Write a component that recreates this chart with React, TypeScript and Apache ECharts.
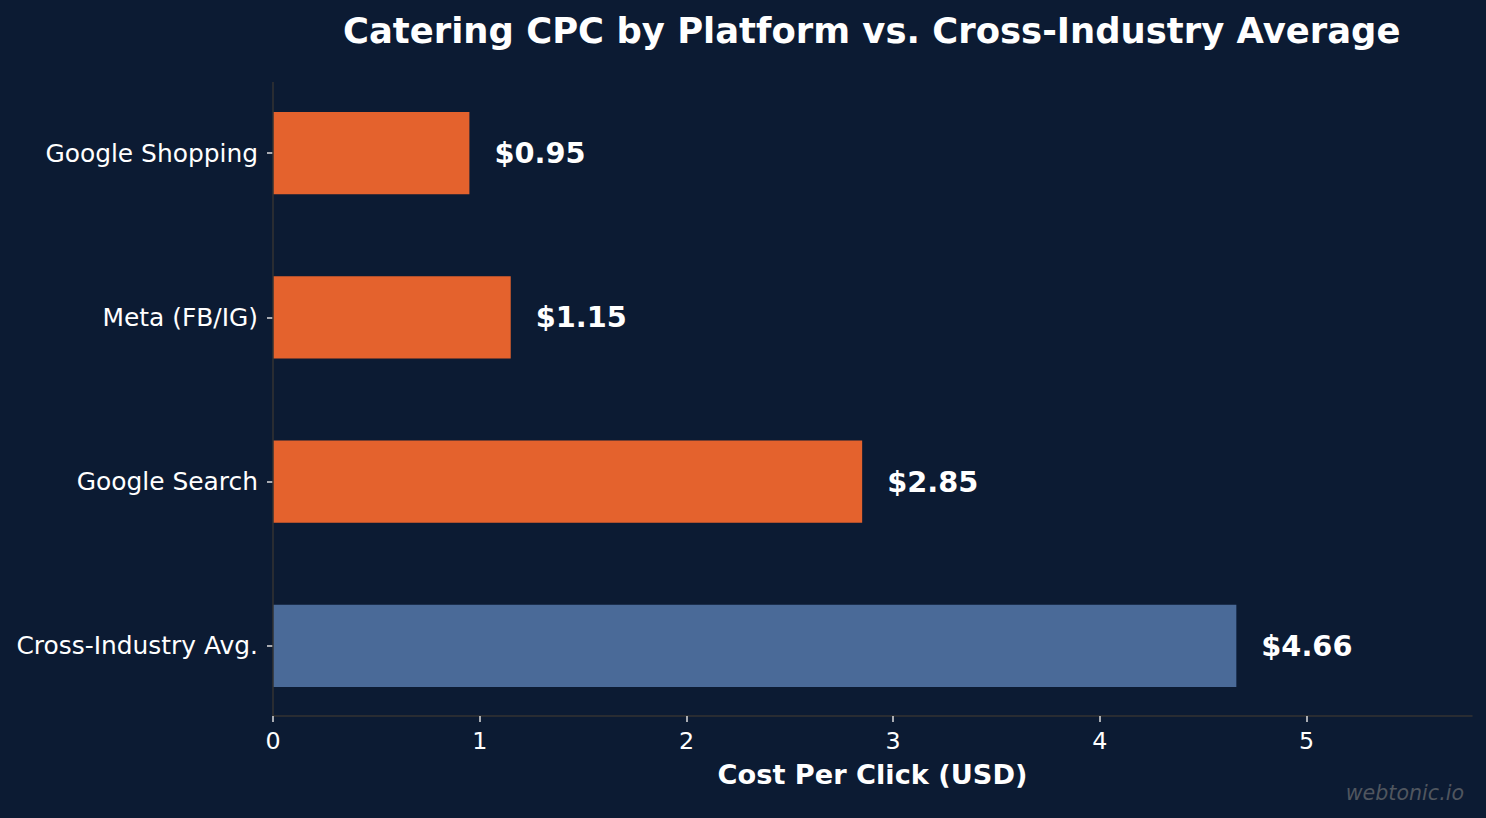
import React, { useEffect, useRef } from "react";
import * as echarts from "echarts";

const categories = ["Google Shopping", "Meta (FB/IG)", "Google Search", "Cross-Industry Avg."];
const cpcValues = [0.95, 1.15, 2.85, 4.66];
const barColors = ["#e4622d", "#e4622d", "#e4622d", "#4a6a98"];
const xTicks = [0, 1, 2, 3, 4, 5];

const FONT = "DejaVu Sans";

export default function App() {
  const ref = useRef<HTMLDivElement>(null);
  useEffect(() => {
    if (!ref.current) return;
    const chart = echarts.init(ref.current, null, { renderer: "svg" });
    const option: any = {
      animation: false,
      backgroundColor: "#0c1b33",
      textStyle: { fontFamily: FONT },
      title: {
        text: "Catering CPC by Platform vs. Cross-Industry Average",
        left: 338,
        top: 8,
        textStyle: { color: "#ffffff", fontSize: 35.4, fontWeight: "bold", fontFamily: FONT },
      },
      grid: { left: 273, right: 14, top: 71, bottom: 90, containLabel: false },
      xAxis: {
        type: "value",
        min: 0,
        max: 5.8,
        interval: 1,
        offset: -12,
        splitLine: { show: false },
        axisLine: { show: true, lineStyle: { color: "#333333", width: 1.5 } },
        axisTick: { show: true, length: 6, lineStyle: { color: "#dddddd", width: 1.5 }, customValues: xTicks },
        axisLabel: { color: "#ffffff", fontSize: 23.8, margin: 13, fontFamily: FONT, customValues: xTicks },
        name: "Cost Per Click (USD)",
        nameLocation: "middle",
        nameGap: 45,
        nameTextStyle: { color: "#ffffff", fontSize: 27.2, fontWeight: "bold", fontFamily: FONT },
      },
      yAxis: {
        type: "category",
        inverse: true,
        data: categories,
        axisLine: { show: false },
        axisTick: { show: true, alignWithLabel: true, length: 6, lineStyle: { color: "#dddddd", width: 1.5 } },
        axisLabel: { color: "#ffffff", fontSize: 24.9, margin: 15, fontFamily: FONT, padding: [4, 0, 0, 0] },
        splitLine: { show: false },
      },
      series: [
        {
          type: "bar",
          barWidth: "50%",
          data: cpcValues.map((v, i) => ({ value: v, itemStyle: { color: barColors[i] } })),
          label: {
            show: true,
            position: "right",
            distance: 25,
            color: "#ffffff",
            fontSize: 28.8,
            fontWeight: "bold",
            fontFamily: FONT,
            formatter: (p: any) => "$" + Number(p.value).toFixed(2),
          },
        },
      ],
      graphic: [
        {
          type: "line",
          shape: { x1: 273, y1: 82, x2: 273, y2: 716 },
          style: { stroke: "#333333", lineWidth: 1.5 },
          z: 10,
        },
        {
          type: "text",
          right: 22,
          bottom: 15,
          style: {
            text: "webtonic.io",
            fill: "#50565f",
            fontSize: 20.6,
            fontStyle: "italic",
            fontFamily: FONT,
          },
        },
      ],
    };
    chart.setOption(option);
    return () => chart.dispose();
  }, []);
  return <div ref={ref} style={{ width: 1486, height: 818, position: "absolute", left: 0, top: 0 }} />;
}
